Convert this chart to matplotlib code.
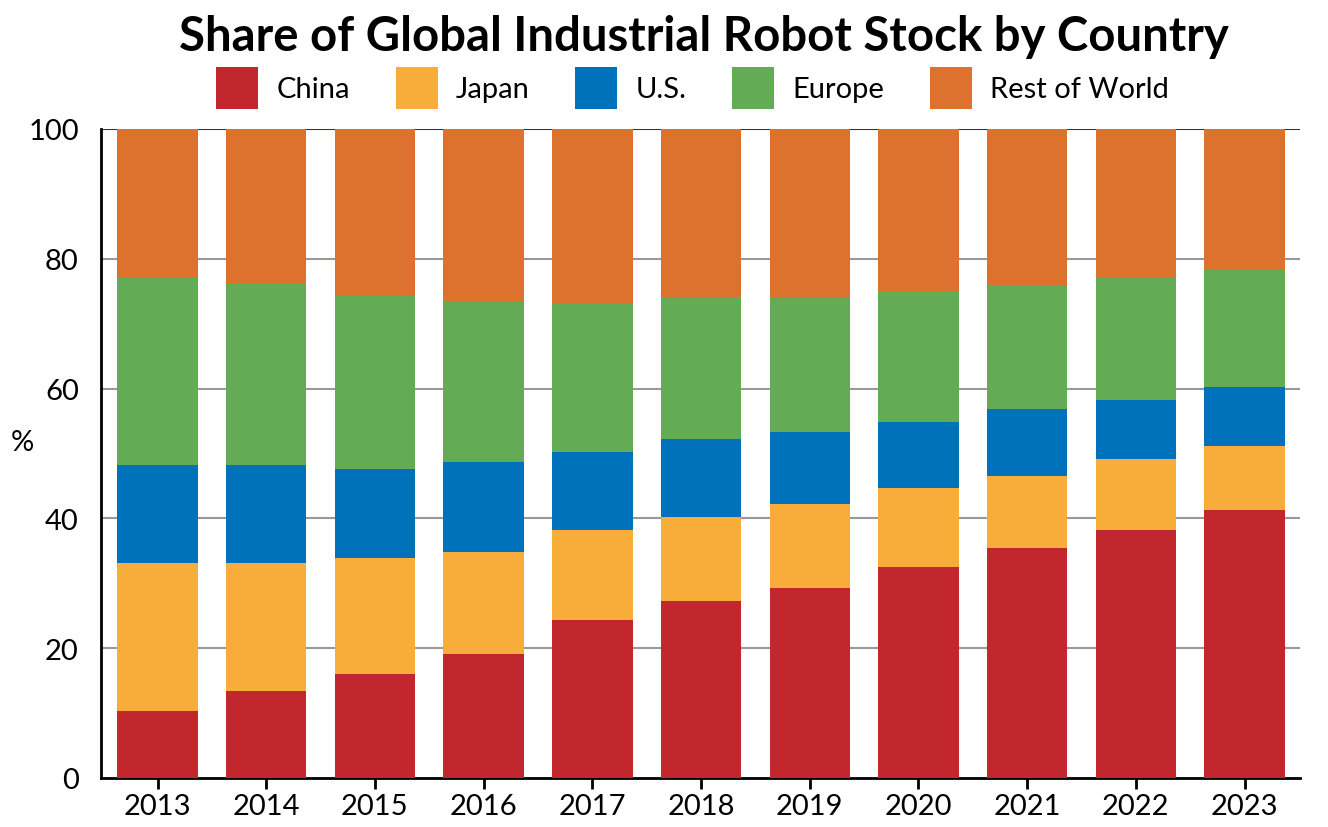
import matplotlib
matplotlib.use("Agg")
import matplotlib.pyplot as plt
import numpy as np
from matplotlib.patches import Patch

plt.rcParams['font.family'] = ['Lato', 'DejaVu Sans']

years = ['2013', '2014', '2015', '2016', '2017', '2018', '2019', '2020', '2021', '2022', '2023']
china = [10.3, 13.4, 16.0, 19.1, 24.3, 27.3, 29.3, 32.5, 35.4, 38.2, 41.3]
japan = [22.8, 19.7, 17.9, 15.7, 13.9, 12.9, 12.9, 12.2, 11.1, 11.0, 9.9]
us = [15.1, 15.1, 13.7, 13.9, 12.0, 12.0, 11.1, 10.2, 10.4, 9.0, 9.0]
europe = [28.8, 27.9, 26.7, 24.6, 22.8, 21.9, 20.8, 20.0, 19.1, 18.8, 18.1]
rest = [100 - a - b - c - d for a, b, c, d in zip(china, japan, us, europe)]

series = [('China', china, '#C1272D'), ('Japan', japan, '#F8AD3B'),
          ('U.S.', us, '#0071BB'), ('Europe', europe, '#63AB54'),
          ('Rest of World', rest, '#DD712E')]

fig = plt.figure(figsize=(13.28, 8.28), dpi=100)
ax = fig.add_axes([101/1328, 1 - 779/828, 1199/1328, 649/828])

x = np.arange(len(years))
bottom = np.zeros(len(years))
handles = []
for name, vals, col in series:
    ax.bar(x, vals, bottom=bottom, width=0.74, color=col, edgecolor='none', zorder=3)
    bottom += np.array(vals)
    handles.append(Patch(facecolor=col, edgecolor='none', label=name))

ax.set_xlim(-0.52, 10.51)
ax.set_ylim(0, 100)
ax.set_yticks([0, 20, 40, 60, 80, 100])
ax.set_xticks(x)
ax.set_xticklabels(years)
for y in [20, 40, 60, 80]:
    ax.axhline(y, color='#999999', lw=1.5, zorder=1)
ax.axhline(100, color='#333333', lw=1.5, zorder=1)

for s in ['top', 'right']:
    ax.spines[s].set_visible(False)
ax.spines['left'].set_linewidth(2)
ax.spines['bottom'].set_linewidth(2)
ax.tick_params(axis='y', length=0, labelsize=21, pad=16)
ax.tick_params(axis='x', length=8, width=2, labelsize=21, pad=3)

fig.text(22/1328, 1 - 443/828, '%', fontsize=21, ha='center', va='center')

fig.text(0.53, 1 - 37/828, 'Share of Global Industrial Robot Stock by Country',
         fontsize=34, fontweight='bold', ha='center', va='center')
fig.legend(handles=handles, loc='center', bbox_to_anchor=(0.5215, 1 - 89/828), ncol=5,
           frameon=False, fontsize=21, handlelength=1.44, handleheight=1.84,
           columnspacing=1.57, handletextpad=0.62)

fig.savefig('out.png', dpi=100)
